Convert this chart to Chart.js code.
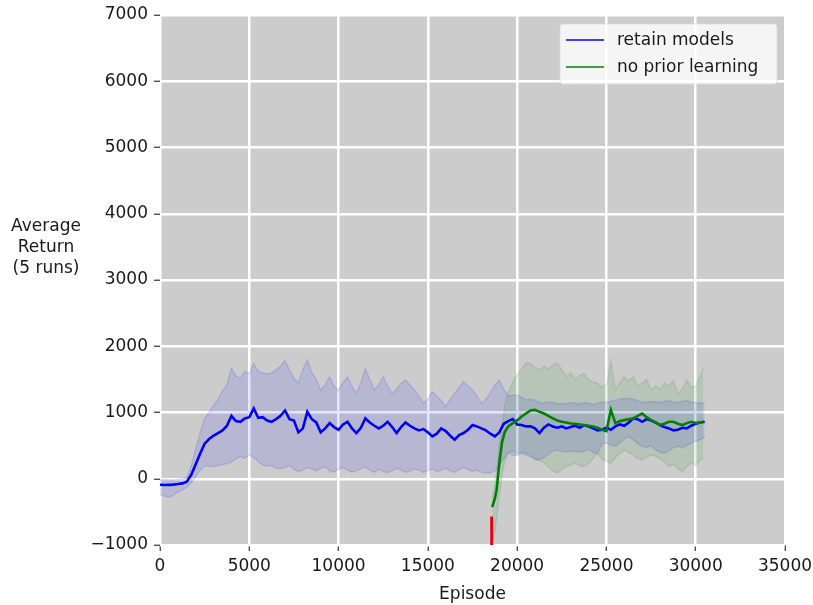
<!DOCTYPE html>
<html>
<head>
<meta charset="utf-8">
<script src="https://cdn.jsdelivr.net/npm/chart.js@4"></script>
<style>
html,body{margin:0;padding:0;background:#fff;}
#wrap{width:813px;height:605px;position:relative;}
</style>
</head>
<body>
<div id="wrap"><canvas id="c" width="813" height="605"></canvas></div>
<script>
// ---- data ----
const blueEpisodes = [0,250,500,750,1000,1250,1500,1750,2000,2250,2500,2750,3000,3250,3500,3750,4000,4250,4500,4750,5000,5250,5500,5750,6000,6250,6500,6750,7000,7250,7500,7750,8000,8250,8500,8750,9000,9250,9500,9750,10000,10250,10500,10750,11000,11250,11500,11750,12000,12250,12500,12750,13000,13250,13500,13750,14000,14250,14500,14750,15000,15250,15500,15750,16000,16250,16500,16750,17000,17250,17500,17750,18000,18250,18500,18750,19000,19250,19500,19750,20000,20250,20500,20750,21000,21250,21500,21750,22000,22250,22500,22750,23000,23250,23500,23750,24000,24250,24500,24750,25000,25250,25500,25750,26000,26250,26500,26750,27000,27250,27500,27750,28000,28250,28500,28750,29000,29250,29500,29750,30000,30250,30500];
const blueMean = [-90,-95,-92,-88,-80,-70,-45,60,220,380,530,600,650,690,730,800,950,870,860,910,930,1060,920,930,880,860,900,950,1030,900,880,700,760,1010,900,850,700,760,840,780,740,820,860,760,690,770,910,850,800,760,800,860,780,690,780,850,800,760,730,750,700,640,680,760,720,650,590,660,690,740,810,790,760,730,680,640,700,830,870,900,820,810,790,790,760,690,770,820,790,770,790,760,780,800,770,810,790,760,730,740,770,740,790,820,800,850,910,900,860,900,880,850,810,780,760,730,740,770,760,800,830,850,860];
const blueUpper = [-20,-10,-15,-20,-10,0,20,200,450,700,910,1000,1110,1200,1330,1420,1670,1550,1520,1620,1590,1740,1620,1600,1580,1600,1640,1700,1790,1640,1520,1440,1650,1790,1600,1500,1340,1420,1540,1400,1340,1450,1540,1400,1290,1450,1660,1500,1340,1420,1540,1400,1290,1350,1440,1490,1420,1340,1250,1140,1200,1315,1250,1180,1090,1200,1290,1380,1465,1400,1340,1250,1140,1200,1300,1415,1490,1350,1250,1260,1265,1230,1190,1200,1180,1150,1140,1160,1150,1130,1140,1130,1150,1140,1130,1150,1140,1120,1140,1160,1150,1170,1180,1200,1215,1210,1200,1180,1160,1150,1170,1160,1150,1170,1180,1160,1150,1170,1180,1160,1150,1140,1140];
const blueLower = [-240,-260,-280,-250,-200,-170,-130,-60,30,130,200,190,185,200,210,230,250,300,330,310,360,320,260,210,190,200,160,150,170,200,140,110,130,170,150,120,160,180,120,100,140,170,130,100,120,150,180,130,100,140,110,90,120,160,130,100,120,150,130,100,120,150,110,130,160,120,100,140,170,140,110,130,100,90,85,120,200,300,390,360,350,385,360,330,290,285,320,370,420,435,410,400,420,410,400,420,440,400,380,520,540,510,490,540,600,635,590,530,490,470,500,440,400,385,420,470,490,470,500,540,570,590,620];

const greenEpisodes = [18600,18750,18850,19000,19150,19300,19500,19750,20000,20250,20500,20750,21000,21250,21500,21750,22000,22250,22500,22750,23000,23250,23500,23750,24000,24250,24500,24750,25000,25250,25500,25750,26000,26250,26500,26750,27000,27250,27500,27750,28000,28250,28500,28750,29000,29250,29500,29750,30000,30250,30430];
const greenMean = [-430,-300,-170,230,550,700,790,840,880,940,985,1030,1040,1010,985,950,910,880,860,850,835,830,820,810,800,790,770,740,720,1040,840,870,885,900,910,950,985,930,885,850,810,830,860,860,830,810,840,860,840,850,860];
const greenUpper = [-300,-100,100,500,800,1100,1300,1450,1580,1650,1750,1745,1680,1640,1700,1660,1720,1745,1650,1540,1600,1500,1560,1590,1500,1460,1440,1380,1420,1770,1340,1450,1540,1480,1540,1400,1440,1500,1340,1400,1350,1440,1400,1480,1290,1350,1490,1380,1400,1550,1665];
const greenLower = [-1000,-800,-600,-250,50,250,400,420,380,400,390,360,300,280,245,180,120,85,140,185,210,235,200,180,230,300,385,300,260,235,320,380,435,400,360,300,285,330,360,335,300,250,185,220,150,105,180,250,200,280,320];

const redEpisodes = [18570,18570];
const redValues = [-1000,-570];

const xTicks = [0,5000,10000,15000,20000,25000,30000,35000];
const yTicks = [-1000,0,1000,2000,3000,4000,5000,6000,7000];
const seriesLabels = ["retain models","no prior learning"];
const yTitleLines = ["Average","Return","(5 runs)"];
const xTitle = "Episode";

// ---- build ----
const pts = (xs, ys) => xs.map((x, i) => ({x: x, y: ys[i]}));
const FONT = "'DejaVu Sans', sans-serif";
const FS = 17;

const bgPlugin = {
  id: 'bg',
  beforeDraw(chart) {
    const {ctx, chartArea: a} = chart;
    ctx.save();
    ctx.fillStyle = '#cccccc';
    ctx.fillRect(a.left, a.top, a.right - a.left, a.bottom - a.top);
    ctx.restore();
  }
};

const extrasPlugin = {
  id: 'extras',
  afterDraw(chart) {
    const ctx = chart.ctx;
    ctx.save();
    // y title (horizontal, multi-line)
    ctx.font = FS + "px " + FONT;
    ctx.fillStyle = '#1a1a1a';
    ctx.textAlign = 'center';
    ctx.textBaseline = 'middle';
    const ys = [227, 248, 269];
    yTitleLines.forEach((t, i) => ctx.fillText(t, 46, ys[i]));
    // legend
    const x0 = 560, y0 = 24, w = 217, h = 60, r = 3;
    ctx.beginPath();
    ctx.moveTo(x0 + r, y0);
    ctx.lineTo(x0 + w - r, y0); ctx.quadraticCurveTo(x0 + w, y0, x0 + w, y0 + r);
    ctx.lineTo(x0 + w, y0 + h - r); ctx.quadraticCurveTo(x0 + w, y0 + h, x0 + w - r, y0 + h);
    ctx.lineTo(x0 + r, y0 + h); ctx.quadraticCurveTo(x0, y0 + h, x0, y0 + h - r);
    ctx.lineTo(x0, y0 + r); ctx.quadraticCurveTo(x0, y0, x0 + r, y0);
    ctx.closePath();
    ctx.fillStyle = 'rgba(255,255,255,0.8)';
    ctx.fill();
    ctx.strokeStyle = 'rgba(220,220,220,0.8)';
    ctx.lineWidth = 1;
    ctx.stroke();
    const cols = ['#0000ff', '#008000'];
    const ly = [40, 67];
    ctx.textAlign = 'left';
    seriesLabels.forEach((t, i) => {
      ctx.strokeStyle = cols[i];
      ctx.lineWidth = 1.6;
      ctx.beginPath();
      ctx.moveTo(566, ly[i]); ctx.lineTo(604, ly[i]);
      ctx.stroke();
      ctx.fillStyle = '#1a1a1a';
      ctx.fillText(t, 617, ly[i] + 1);
    });
    ctx.restore();
  }
};

const fmt = v => String(v).replace('-', '\u2212');

new Chart(document.getElementById('c'), {
  type: 'line',
  data: {
    datasets: [
      { label: 'blue upper', data: pts(blueEpisodes, blueUpper), borderColor: 'rgba(0,0,255,0.12)', borderWidth: 1.5, backgroundColor: 'rgba(0,0,255,0.1)', fill: '+1', pointRadius: 0, order: 5 },
      { label: 'blue lower', data: pts(blueEpisodes, blueLower), borderColor: 'rgba(0,0,255,0.12)', borderWidth: 1.5, fill: false, pointRadius: 0, order: 5 },
      { label: 'green upper', data: pts(greenEpisodes, greenUpper), borderColor: 'rgba(0,128,0,0.12)', borderWidth: 1.5, backgroundColor: 'rgba(0,128,0,0.1)', fill: '+1', pointRadius: 0, order: 4 },
      { label: 'green lower', data: pts(greenEpisodes, greenLower), borderColor: 'rgba(0,128,0,0.12)', borderWidth: 1.5, fill: false, pointRadius: 0, order: 4 },
      { label: seriesLabels[0], data: pts(blueEpisodes, blueMean), borderColor: '#0000ff', borderWidth: 2.6, fill: false, pointRadius: 0, order: 2 },
      { label: seriesLabels[1], data: pts(greenEpisodes, greenMean), borderColor: '#008000', borderWidth: 2.6, fill: false, pointRadius: 0, order: 1 },
      { label: 'red', data: pts(redEpisodes, redValues), borderColor: '#e8000b', borderWidth: 2.8, fill: false, pointRadius: 0, order: 0 }
    ]
  },
  options: {
    responsive: false,
    animation: false,
    layout: { padding: { left: 0, right: 28, top: 15, bottom: 0 } },
    plugins: { legend: { display: false }, tooltip: { enabled: false } },
    scales: {
      x: {
        type: 'linear', min: 0, max: 35000,
        afterBuildTicks: s => { s.ticks = xTicks.map(v => ({value: v})); },
        afterFit: s => { s.height = 60; s.paddingLeft = 0; s.paddingRight = 0; },
        border: { display: false },
        grid: { color: '#ffffff', lineWidth: 2.5, tickColor: '#333', tickLength: 6, tickWidth: 1.2 },
        ticks: { callback: v => fmt(v), color: '#1a1a1a', font: { family: FONT, size: FS }, padding: 5, maxRotation: 0 },
        title: { display: true, text: xTitle, color: '#1a1a1a', font: { family: FONT, size: FS }, padding: { top: 0, bottom: 0 } }
      },
      y: {
        type: 'linear', min: -1000, max: 7000,
        afterBuildTicks: s => { s.ticks = yTicks.map(v => ({value: v})); },
        afterFit: s => { s.width = 160; s.paddingTop = 0; s.paddingBottom = 0; },
        border: { display: false },
        grid: { color: '#ffffff', lineWidth: 2.5, tickColor: '#333', tickLength: 6, tickWidth: 1.2 },
        ticks: { callback: v => fmt(v), color: '#1a1a1a', font: { family: FONT, size: FS }, padding: 6 }
      }
    }
  },
  plugins: [bgPlugin, extrasPlugin]
});
</script>
</body>
</html>
